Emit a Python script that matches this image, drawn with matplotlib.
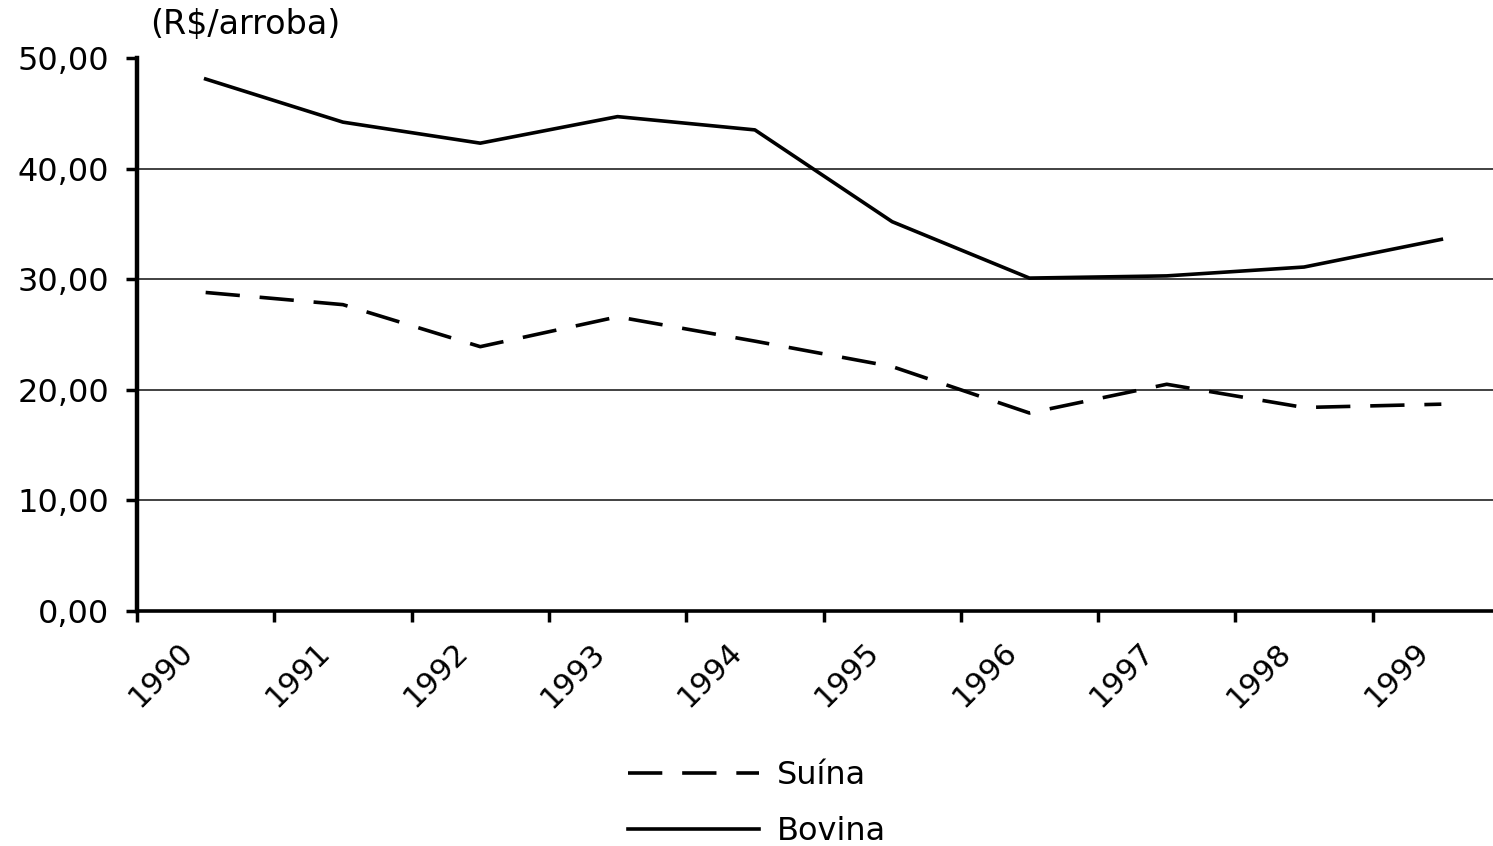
import matplotlib
matplotlib.use("Agg")
import matplotlib.pyplot as plt
import matplotlib.transforms as mtransforms
from matplotlib.ticker import FuncFormatter, MultipleLocator
import numpy as np

years = ["1990", "1991", "1992", "1993", "1994", "1995", "1996", "1997", "1998", "1999"]
suina = [28.8, 27.7, 23.9, 26.6, 24.4, 22.1, 17.9, 20.5, 18.4, 18.7]
bovina = [48.1, 44.2, 42.3, 44.7, 43.5, 35.2, 30.1, 30.3, 31.1, 33.6]
unit_label = "(R\\$/arroba)"

plt.rcParams['font.family'] = ['DejaVu Sans']

W, H = 1493, 846
fig = plt.figure(figsize=(W / 100, H / 100), dpi=100)
left = 137 / W
bottom = 1 - 611 / H
top = 1 - 58 / H
ax = fig.add_axes([left, bottom, 1 - left, top - bottom])

x = np.arange(len(years)) + 0.5
ax.plot(x, suina, color='black', lw=2.6, linestyle=(0, (9.5, 5.5)), label='Suína')
ax.plot(x, bovina, color='black', lw=2.6, linestyle='-', label='Bovina')

ax.set_ylim(0, 50)
ax.set_xlim(0, (W - 137) / 137.3)
ax.yaxis.set_major_locator(MultipleLocator(10))
ax.yaxis.set_major_formatter(FuncFormatter(lambda v, p: f"{v:.2f}".replace('.', ',')))
ax.set_xticks(np.arange(len(years)))
ax.set_xticklabels(years, rotation=45, ha='center', va='top')

for yv in [10, 20, 30, 40]:
    ax.axhline(yv, color='#333333', lw=1.3, zorder=0)

for s in ['top', 'right']:
    ax.spines[s].set_visible(False)
ax.spines['left'].set_linewidth(3.2)
ax.spines['bottom'].set_linewidth(2.6)

ax.tick_params(axis='y', length=8, width=2.5, pad=12, labelsize=23)
ax.tick_params(axis='x', length=8, width=2.5, pad=11, labelsize=22)

offset = mtransforms.ScaledTranslation(24 / 100, 0, fig.dpi_scale_trans)
for lbl in ax.get_xticklabels():
    lbl.set_transform(lbl.get_transform() + offset)

fig.text(150 / W, 1 - 8 / H, unit_label, fontsize=24, ha='left', va='top')

leg = fig.legend(loc='upper left', bbox_to_anchor=(612 / W, 1 - 744 / H),
                 frameon=False, fontsize=23, handlelength=4.1, handletextpad=0.55,
                 labelspacing=0.78, borderpad=0)

fig.savefig("out.png", dpi=100)
